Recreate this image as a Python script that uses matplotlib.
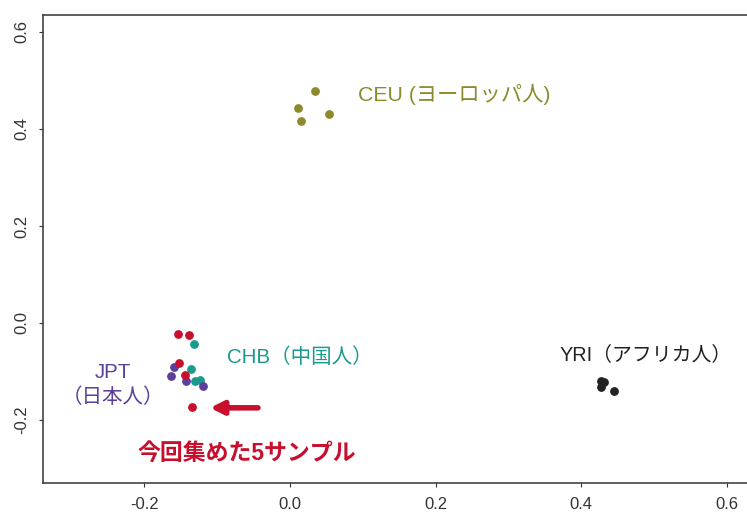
import matplotlib
matplotlib.use("Agg")
import matplotlib.pyplot as plt

# PCA coordinates
ceu_x = [0.035, 0.011, 0.054, 0.015]
ceu_y = [0.479, 0.443, 0.431, 0.417]

yri_x = [0.4275, 0.427, 0.431, 0.446]
yri_y = [-0.120, -0.133, -0.121, -0.140]

chb_x = [-0.132, -0.1365, -0.131, -0.124]
chb_y = [-0.043, -0.094, -0.119, -0.1175]

jpt_x = [-0.160, -0.1636, -0.1434, -0.120]
jpt_y = [-0.091, -0.109, -0.1196, -0.130]

new_x = [-0.1535, -0.1388, -0.1526, -0.1443, -0.1347]
new_y = [-0.023, -0.025, -0.082, -0.107, -0.173]

xticks = [-0.2, 0.0, 0.2, 0.4, 0.6]
xtick_labels = ["-0.2", "0.0", "0.2", "0.4", "0.6"]
yticks = [-0.2, 0.0, 0.2, 0.4, 0.6]
ytick_labels = ["-0.2", "0.0", "0.2", "0.4", "0.6"]

olive = "#8c8a2b"
teal = "#1a9a8e"
purple = "#5b3f98"
red = "#c8102e"
black = "#222222"

plt.rcParams['font.family'] = ['Liberation Sans', 'Noto Sans CJK JP', 'DejaVu Sans']

fig = plt.figure(figsize=(7.47, 5.13), dpi=100)
ax = fig.add_axes([43/747, 30/513, (760-43)/747, 468/513])

ms = 28
ax.scatter(ceu_x, ceu_y, s=ms, color=olive, zorder=3)
ax.scatter(yri_x, yri_y, s=ms, color=black, zorder=3)
ax.scatter(chb_x, chb_y, s=ms, color=teal, zorder=3)
ax.scatter(jpt_x, jpt_y, s=ms, color=purple, zorder=3)
ax.scatter(new_x, new_y, s=ms, color=red, zorder=4)

ax.text(0.0935, 0.472, "CEU (ヨーロッパ人)", color=olive, fontsize=15.3, va="center", ha="left")
ax.text(-0.0866, -0.070, "CHB（中国人）", color=teal, fontsize=14.8, va="center", ha="left")
ax.text(-0.243, -0.127, "JPT\n（日本人）", color=purple, fontsize=14.8, va="center", ha="center",
        multialignment="center", linespacing=1.35)
ax.text(0.371, -0.066, "YRI（アフリカ人）", color=black, fontsize=14.3, va="center", ha="left")
ax.text(-0.209, -0.268, "今回集めた5サンプル", color=red, fontsize=16.5, fontweight="bold",
        va="center", ha="left")

ax.annotate("", xy=(-0.110, -0.175), xytext=(-0.044, -0.175),
            arrowprops=dict(arrowstyle="-|>", color=red, lw=4, mutation_scale=19,
                            shrinkA=0, shrinkB=0))

ax.set_xlim(-0.3395, 0.646)
ax.set_ylim(-0.33, 0.635)
ax.set_xticks(xticks)
ax.set_xticklabels(xtick_labels)
ax.set_yticks(yticks)
ax.set_yticklabels(ytick_labels, rotation=90, va="center")

for s in ax.spines.values():
    s.set_color("#333333")
    s.set_linewidth(1.1)
ax.spines["right"].set_visible(False)
ax.tick_params(direction="out", length=3, width=0.8, colors="#333333", labelsize=12, pad=7)

fig.savefig("out.png", dpi=100)
